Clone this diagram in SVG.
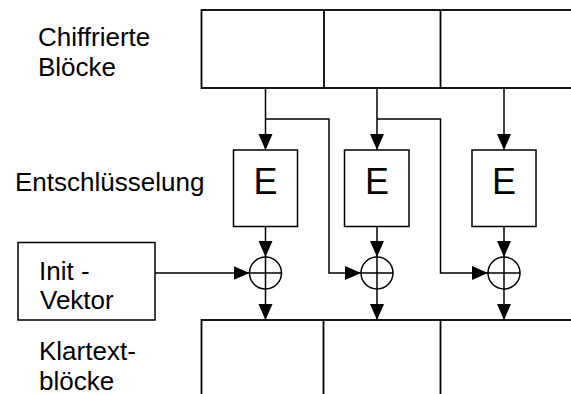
<svg xmlns="http://www.w3.org/2000/svg" width="571" height="394" viewBox="0 0 571 394">
<style>
.box{fill:#fff;stroke:#000;stroke-width:1.8}
.ln{fill:none;stroke:#000;stroke-width:1.5}
.lbl{font-family:"Liberation Sans",Arial,sans-serif;font-size:26px;fill:#000}
.e{font-family:"Liberation Sans",Arial,sans-serif;font-size:36px;fill:#000;text-anchor:middle}
</style>
<defs>
<marker id="ah" markerUnits="userSpaceOnUse" markerWidth="17" markerHeight="15" refX="16" refY="7" orient="auto">
<path d="M0,0 L16,7 L0,14 Z" fill="#000"/>
</marker>
</defs>
<g id="labels">
<text class="lbl" x="38" y="45.5">Chiffrierte</text>
<text class="lbl" x="38" y="76">Blöcke</text>
<text class="lbl" x="15" y="190.5">Entschlüsselung</text>
<text class="lbl" x="39" y="359.5">Klartext-</text>
<text class="lbl" x="39" y="389.5">blöcke</text>
</g>
<g id="cipher-blocks">
<rect class="box" x="201.5" y="10" width="380" height="78"/>
<line class="ln" x1="324" y1="10" x2="324" y2="88" style="stroke-width:1.8"/>
<line class="ln" x1="440.5" y1="10" x2="440.5" y2="88" style="stroke-width:1.8"/>
</g>
<g id="plain-blocks">
<rect class="box" x="201.5" y="320" width="380" height="90"/>
<line class="ln" x1="323.5" y1="320" x2="323.5" y2="400" style="stroke-width:1.8"/>
<line class="ln" x1="440.5" y1="320" x2="440.5" y2="400" style="stroke-width:1.8"/>
</g>
<g id="E1"><rect class="box" x="233.5" y="150" width="64" height="76.5" style="stroke-width:1.5"/><text class="e" x="265.5" y="194">E</text></g>
<g id="E2"><rect class="box" x="344.5" y="150" width="64.5" height="76.5" style="stroke-width:1.5"/><text class="e" x="377" y="194">E</text></g>
<g id="E3"><rect class="box" x="472" y="150" width="64" height="76.5" style="stroke-width:1.5"/><text class="e" x="504" y="194">E</text></g>
<g id="init">
<rect class="box" x="18" y="242.5" width="137" height="77.5" style="stroke-width:1.5"/>
<text class="lbl" x="39" y="280">Init -</text>
<text class="lbl" x="40" y="308.5">Vektor</text>
</g>
<g id="xor1"><circle class="ln" cx="265.5" cy="273" r="16"/><path class="ln" d="M249.5 273H281.5M265.5 257V289"/></g>
<g id="xor2"><circle class="ln" cx="377" cy="273" r="16"/><path class="ln" d="M361 273H393M377 257V289"/></g>
<g id="xor3"><circle class="ln" cx="504" cy="273" r="16"/><path class="ln" d="M488 273H520M504 257V289"/></g>
<g id="connectors">
<path class="ln" d="M265.5 88V150" marker-end="url(#ah)"/>
<path class="ln" d="M377 88V150" marker-end="url(#ah)"/>
<path class="ln" d="M504 88V150" marker-end="url(#ah)"/>
<path class="ln" d="M265.5 119H329V273H361" marker-end="url(#ah)"/>
<path class="ln" d="M377 119H440.5V273H488" marker-end="url(#ah)"/>
<path class="ln" d="M265.5 226.5V257" marker-end="url(#ah)"/>
<path class="ln" d="M377 226.5V257" marker-end="url(#ah)"/>
<path class="ln" d="M504 226.5V257" marker-end="url(#ah)"/>
<path class="ln" d="M155 273H249.5" marker-end="url(#ah)"/>
<path class="ln" d="M265.5 289V320" marker-end="url(#ah)"/>
<path class="ln" d="M377 289V320" marker-end="url(#ah)"/>
<path class="ln" d="M504 289V320" marker-end="url(#ah)"/>
</g>
</svg>
